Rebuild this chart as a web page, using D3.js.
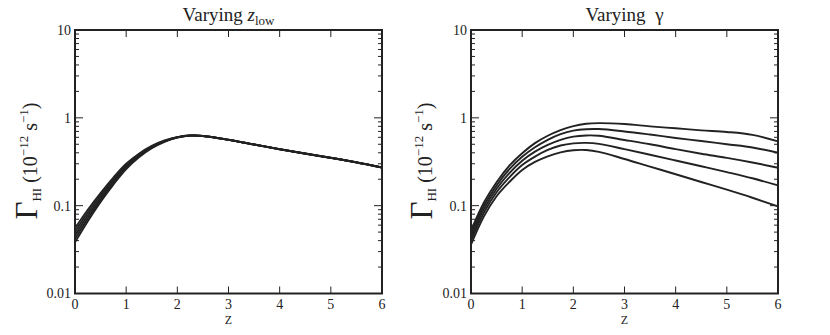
<!DOCTYPE html>
<html><head><meta charset="utf-8">
<script src="https://cdn.jsdelivr.net/npm/d3@7"></script>
<style>
body{margin:0;background:#fff}
svg, text, tspan{font-family:"Liberation Serif","DejaVu Serif","Times New Roman",serif}
text{fill:#222}
</style>
</head><body><svg id="c" width="830" height="335"></svg>
<script>
// ---- data ----
const zValues = [0,0.25,0.5,0.75,1,1.25,1.5,1.75,2,2.25,2.5,3,3.5,4,4.5,5,5.5,6];
const xTicks = [0,1,2,3,4,5,6];
const yTicks = [0.01,0.1,1,10];
const yTickLabels = ["0.01","0.1","1","10"];

// Panel 1: varying z_low
const zlow1 = [0.0383,0.0666,0.1105,0.1737,0.261,0.356,0.451,0.534,0.596,0.627,0.621,0.561,0.496,0.438,0.390,0.349,0.310,0.271];
const zlow2 = [0.0420,0.0717,0.1170,0.1819,0.2705,0.3645,0.4576,0.5387,0.598,0.628,0.622,0.562,0.497,0.439,0.391,0.350,0.311,0.272];
const zlow3 = [0.0460,0.0773,0.1240,0.1905,0.280,0.373,0.4645,0.543,0.600,0.629,0.622,0.562,0.497,0.439,0.391,0.350,0.311,0.272];
const zlow4 = [0.0504,0.0833,0.1313,0.1995,0.2898,0.3816,0.4715,0.5474,0.602,0.630,0.623,0.563,0.498,0.440,0.392,0.351,0.311,0.272];
const zlow5 = [0.0553,0.0897,0.1391,0.2088,0.300,0.3905,0.4785,0.5517,0.604,0.631,0.623,0.563,0.498,0.440,0.392,0.351,0.312,0.273];

// Panel 2: varying gamma
const gamma1 = [0.052,0.108,0.185,0.285,0.395,0.515,0.625,0.725,0.805,0.855,0.870,0.850,0.800,0.760,0.720,0.690,0.640,0.540];
const gamma2 = [0.048,0.099,0.170,0.260,0.360,0.462,0.562,0.652,0.715,0.742,0.745,0.700,0.645,0.590,0.545,0.500,0.460,0.400];
const gamma3 = [0.044,0.091,0.156,0.235,0.325,0.412,0.492,0.562,0.612,0.630,0.625,0.560,0.500,0.440,0.390,0.350,0.310,0.270];
const gamma4 = [0.040,0.083,0.142,0.210,0.290,0.362,0.432,0.484,0.512,0.518,0.505,0.440,0.380,0.327,0.281,0.241,0.205,0.170];
const gamma5 = [0.036,0.075,0.128,0.186,0.255,0.315,0.365,0.405,0.428,0.430,0.410,0.340,0.278,0.228,0.186,0.152,0.123,0.098];

const zlowSeries = [zlow1,zlow2,zlow3,zlow4,zlow5];
const gammaSeries = [gamma1,gamma2,gamma3,gamma4,gamma5];

// ---- drawing ----
const svg = d3.select("#c");
const yTop = 30, yBot = 293.5;
const ink = "#222";

function panel(x0, x1, series, titleFn, labelX){
  const x = d3.scaleLinear().domain([0,6]).range([x0,x1]);
  const y = d3.scaleLog().domain([0.01,10]).range([yBot,yTop]);
  const g = svg.append("g");

  // minor ticks (log)
  const minors = [];
  for (let d=-2; d<1; d++) for (let m=2; m<10; m++) minors.push(m*Math.pow(10,d));
  const tk = g.append("g").attr("stroke",ink).attr("stroke-width",1);
  minors.forEach(v=>{
    tk.append("line").attr("x1",x0).attr("x2",x0+4).attr("y1",y(v)).attr("y2",y(v));
    tk.append("line").attr("x1",x1).attr("x2",x1-4).attr("y1",y(v)).attr("y2",y(v));
  });
  yTicks.forEach(v=>{
    tk.append("line").attr("x1",x0).attr("x2",x0+8).attr("y1",y(v)).attr("y2",y(v));
    tk.append("line").attr("x1",x1).attr("x2",x1-8).attr("y1",y(v)).attr("y2",y(v));
  });
  xTicks.forEach(v=>{
    tk.append("line").attr("x1",x(v)).attr("x2",x(v)).attr("y1",yBot).attr("y2",yBot-7);
    tk.append("line").attr("x1",x(v)).attr("x2",x(v)).attr("y1",yTop).attr("y2",yTop+7);
  });

  // curves
  const line = d3.line().x((d,i)=>x(zValues[i])).y(d=>y(d)).curve(d3.curveCatmullRom.alpha(0.5));
  g.append("g").selectAll("path").data(series).join("path")
    .attr("d",line).attr("fill","none").attr("stroke",ink).attr("stroke-width",1.9);

  // frame
  g.append("rect").attr("x",x0).attr("y",yTop).attr("width",x1-x0).attr("height",yBot-yTop)
    .attr("fill","none").attr("stroke",ink).attr("stroke-width",2);

  // tick labels
  yTicks.forEach((v,i)=>{
    g.append("text").attr("x",x0-4).attr("y",y(v)).attr("dy","0.35em")
      .attr("text-anchor","end").attr("font-size",14).text(yTickLabels[i]);
  });
  xTicks.forEach(v=>{
    g.append("text").attr("x",x(v)).attr("y",yBot+15).attr("text-anchor","middle")
      .attr("font-size",14).text(String(v));
  });
  g.append("text").attr("x",(x0+x1)/2).attr("y",yBot+30.5).attr("text-anchor","middle")
    .attr("font-size",12).text("Z");

  // title
  const t = g.append("text").attr("x",(x0+x1)/2).attr("y",21).attr("text-anchor","middle").attr("font-size",19);
  titleFn(t);

  // y label
  const cy = 161;
  const yl = g.append("text").attr("transform",`translate(${labelX},${cy}) rotate(-90)`).attr("text-anchor","middle");
  yl.append("tspan").attr("font-size",31).text("Γ");
  yl.append("tspan").attr("font-size",13).attr("dy",4).text("HI");
  yl.append("tspan").attr("font-size",20).attr("dy",-4).text(" (10");
  yl.append("tspan").attr("font-size",13).attr("dy",-9).text("−12");
  yl.append("tspan").attr("font-size",20).attr("dy",9).text(" s");
  yl.append("tspan").attr("font-size",13).attr("dy",-9).text("−1");
  yl.append("tspan").attr("font-size",20).attr("dy",9).text(")");
}

panel(75, 382, zlowSeries, t=>{
  t.append("tspan").text("Varying ");
  t.append("tspan").attr("font-style","italic").text("z");
  t.append("tspan").attr("font-size",13).attr("dy",4).text("low");
}, 37);

panel(471, 778, gammaSeries, t=>{
  t.append("tspan").text("Varying\u00A0\u00A0");
  t.append("tspan").text("γ");
}, 432);
</script>
</body></html>
